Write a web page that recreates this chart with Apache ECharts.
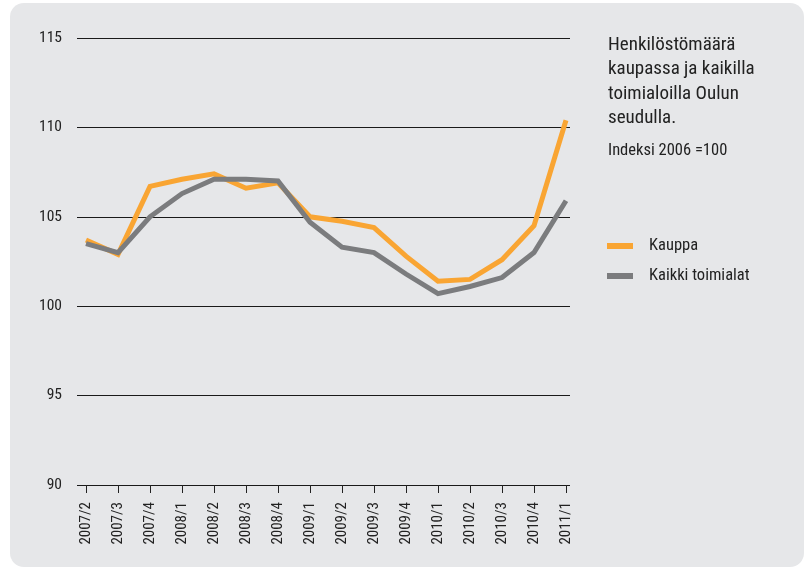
<!DOCTYPE html>
<html>
<head>
<meta charset="utf-8">
<script src="https://cdn.jsdelivr.net/npm/echarts@6/dist/echarts.min.js"></script>
<style>
html,body{margin:0;padding:0;background:#fff;}
#c{width:808px;height:571px;}
</style>
</head>
<body>
<div id="c"></div>
<script>
const categories = ['2007/2','2007/3','2007/4','2008/1','2008/2','2008/3','2008/4','2009/1','2009/2','2009/3','2009/4','2010/1','2010/2','2010/3','2010/4','2011/1'];
const kauppa = [103.7,102.9,106.7,107.1,107.4,106.6,106.9,105.0,104.75,104.4,102.8,101.4,101.5,102.6,104.5,110.4];
const kaikki = [103.5,103.0,105.0,106.3,107.1,107.1,107.0,104.7,103.3,103.0,101.8,100.7,101.1,101.6,103.0,105.9];
const yTicks = [90,95,100,105,110,115];
const titleText = 'Henkilöstömäärä\nkaupassa ja kaikilla\ntoimialoilla Oulun\nseudulla.';
const subText = 'Indeksi 2006 =100';

const FONT = "'Liberation Sans Narrow', 'Roboto Condensed', Roboto, sans-serif";
const chart = echarts.init(document.getElementById('c'), null, {renderer:'canvas'});
chart.setOption({
  backgroundColor: '#ffffff',
  animation: false,
  textStyle: {fontFamily: FONT},
  graphic: [{
    type: 'rect', z: -10, silent: true,
    shape: {x: 10, y: 3, width: 794, height: 564, r: 14},
    style: {fill: '#E6E7E9'}
  }],
  title: [{
    text: titleText, left: 603, top: 28,
    textStyle: {fontFamily: FONT, fontSize: 19, fontWeight: 'normal', color: '#222', lineHeight: 24.3}
  },{
    text: subText, left: 603, top: 136,
    textStyle: {fontFamily: FONT, fontSize: 16.5, fontWeight: 'normal', color: '#222', lineHeight: 20}
  }],
  legend: {
    orient: 'vertical', left: 602, top: 232,
    icon: 'rect', itemWidth: 26, itemHeight: 6, itemGap: 12,
    textStyle: {fontFamily: FONT, fontSize: 16.5, lineHeight: 18, color: '#222', padding: [0,0,0,11]},
    data: ['Kauppa','Kaikki toimialat']
  },
  grid: [
    {left: 77, right: 238, top: 38, bottom: 86},
    {left: 86, right: 242, top: 38, bottom: 86}
  ],
  xAxis: [
    {gridIndex: 0, type: 'value', show: false, min: 0, max: 1},
    {gridIndex: 1, type: 'category', data: categories, boundaryGap: false,
     axisLine: {show: false},
     axisTick: {show: true, length: 8, lineStyle: {color: '#222', width: 1}},
     axisLabel: {rotate: 90, margin: 17, fontSize: 15, color: '#222', fontFamily: FONT, interval: 0}}
  ],
  yAxis: [
    {gridIndex: 0, type: 'value', min: 90, max: 115, interval: 5,
     axisLine: {show: false}, axisTick: {show: false},
     axisLabel: {margin: 15, fontSize: 15.5, color: '#222', fontFamily: FONT},
     splitLine: {show: true, lineStyle: {color: '#1a1a1a', width: 1}}},
    {gridIndex: 1, type: 'value', min: 90, max: 115, interval: 5, show: false,
     splitLine: {show: false}}
  ],
  series: [
    {name: 'Kauppa', type: 'line', xAxisIndex: 1, yAxisIndex: 1, data: kauppa,
     showSymbol: false, symbol: 'none', color: '#F9A533',
     lineStyle: {width: 5, color: '#F9A533', join: 'miter'}},
    {name: 'Kaikki toimialat', type: 'line', xAxisIndex: 1, yAxisIndex: 1, data: kaikki,
     showSymbol: false, symbol: 'none', color: '#7B7C7E',
     lineStyle: {width: 5, color: '#7B7C7E', join: 'miter'}}
  ]
});
</script>
</body>
</html>
